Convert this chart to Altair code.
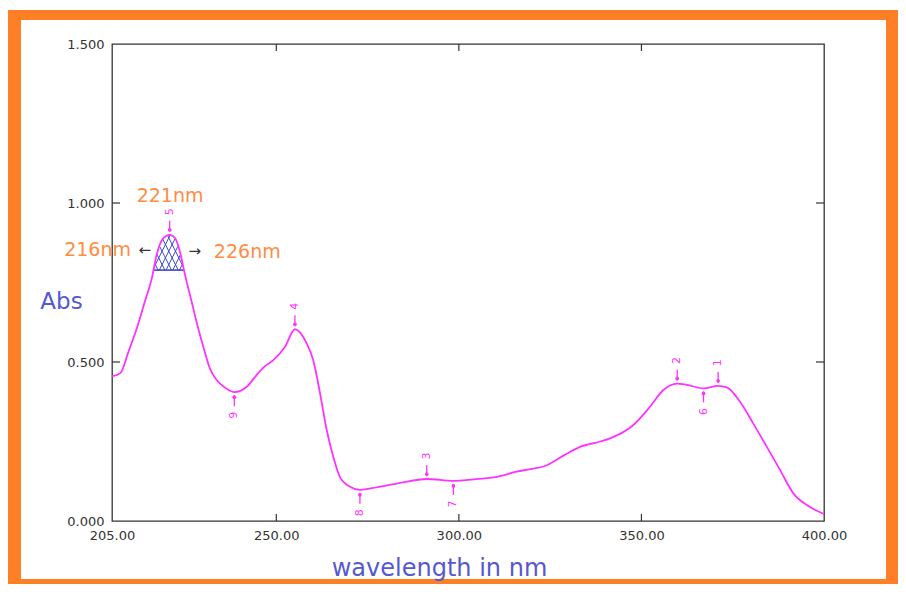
import altair as alt
import pandas as pd
import math

# ---------------- data ----------------
wavelength = [205.0, 207.3, 209.5, 211.8, 214.0, 215.9, 217.2, 219.0, 220.8, 222.3,
              223.6, 225.0, 226.8, 228.6, 230.4, 231.8, 233.4, 235.0, 236.6, 238.5,
              241.9, 244.6,
              246.9, 249.2, 252.4, 255.1, 258.3, 260.1, 262.0, 263.8, 265.6, 267.4,
              270.2, 272.9, 277.5, 283.9, 291.2, 298.5, 304.0, 310.4, 315.8, 319.5,
              323.6, 329.0, 333.2, 338.7, 341.4, 347.8, 352.4, 356.0, 359.8, 362.4,
              367.0, 371.0, 373.4, 377.0, 380.6, 384.3, 388.0, 391.6, 395.3, 400.0]
absorbance = [0.455, 0.465, 0.532, 0.606, 0.690, 0.763, 0.836, 0.889, 0.900, 0.889,
              0.847, 0.774, 0.690, 0.606, 0.532, 0.480, 0.447, 0.428, 0.414, 0.405,
              0.422, 0.459,
              0.487, 0.506, 0.548, 0.603, 0.559, 0.506, 0.400, 0.286, 0.202, 0.139,
              0.108, 0.098, 0.106, 0.120, 0.132, 0.126, 0.131, 0.139, 0.155, 0.163,
              0.173, 0.208, 0.233, 0.250, 0.260, 0.302, 0.360, 0.412, 0.432, 0.428,
              0.417, 0.425, 0.420, 0.375, 0.307, 0.234, 0.160, 0.087, 0.050, 0.022]

peak_ids = ["1", "2", "3", "4", "5"]
peak_nm = [371.0, 359.8, 291.2, 255.1, 220.8]
peak_abs = [0.425, 0.432, 0.132, 0.603, 0.900]

valley_ids = ["6", "7", "8", "9"]
valley_nm = [367.0, 298.5, 272.9, 238.5]
valley_abs = [0.417, 0.126, 0.098, 0.405]

x_ticks = [205, 250, 300, 350, 400]
y_ticks = [0.0, 0.5, 1.0, 1.5]
x_inner_ticks = [250, 300, 350]
y_inner_ticks = [0.5, 1.0]

# hatched band around the 221 nm peak (216 - 226 nm)
hatch_left_nm, hatch_right_nm, hatch_base = 216.26, 224.7, 0.789

ann_text = ["221nm", "216nm", "226nm"]
ann_nm = [220.9, 210.2, 232.9]
ann_abs = [1.022, 0.852, 0.846]
ann_align = ["center", "right", "left"]

arrow_text = ["←", "→"]
arrow_nm = [214.0, 227.7]
arrow_abs = [0.852, 0.849]

# ---------------- styling ----------------
W, H = 712, 477
MAGENTA = "#ff33ff"
ORANGE = "#ff7f27"
ORANGE_TXT = "#ff8c42"
BLUE = "#5558d0"
HATCH = "#3b48c9"
AXC = "#333333"
FONT = "DejaVu Sans"

xs = alt.Scale(domain=[205, 400], nice=False, zero=False)
ys = alt.Scale(domain=[0, 1.5], nice=False, zero=False)

curve_df = pd.DataFrame({"nm": wavelength, "A": absorbance})
peaks_df = pd.DataFrame({"id": peak_ids, "nm": peak_nm, "A": peak_abs})
valleys_df = pd.DataFrame({"id": valley_ids, "nm": valley_nm, "A": valley_abs})

# ---- hatch segments: cross lines clipped to region under curve above baseline ----
def to_px(nm, a):
    return ((nm - 205) * W / 195.0, a * H / 1.5)

def to_data(px, py):
    return (205 + px * 195.0 / W, py * 1.5 / H)

poly_pts = [(hatch_left_nm, hatch_base)]
for n, a in zip(wavelength, absorbance):
    if hatch_left_nm < n < hatch_right_nm:
        poly_pts.append((n, a))
poly_pts.append((hatch_right_nm, hatch_base))
poly = [to_px(n, a) for n, a in poly_pts]
cx = sum(p[0] for p in poly) / len(poly)
cy = sum(p[1] for p in poly) / len(poly)

def clip(p0, d):
    tmin, tmax = -1e9, 1e9
    m = len(poly)
    for i in range(m):
        a = poly[i]
        b = poly[(i + 1) % m]
        ex, ey = b[0] - a[0], b[1] - a[1]
        nx, ny = -ey, ex
        if nx * (cx - a[0]) + ny * (cy - a[1]) < 0:
            nx, ny = -nx, -ny
        num = nx * (p0[0] - a[0]) + ny * (p0[1] - a[1])
        den = nx * d[0] + ny * d[1]
        if abs(den) < 1e-12:
            if num < 0:
                return None
            continue
        t = -num / den
        if den > 0:
            tmin = max(tmin, t)
        else:
            tmax = min(tmax, t)
    if tmin >= tmax:
        return None
    return ((p0[0] + tmin * d[0], p0[1] + tmin * d[1]),
            (p0[0] + tmax * d[0], p0[1] + tmax * d[1]))

rows = []
seg = 0
for d in [(0.6, 1.2), (0.6, -1.2)]:
    ln = math.hypot(*d)
    d = (d[0] / ln, d[1] / ln)
    nrm = (-d[1], d[0])
    for k in range(-8, 9):
        p0 = (cx + k * 6.0 * nrm[0], cy + k * 6.0 * nrm[1])
        r = clip(p0, d)
        if r is None:
            continue
        for (px, py) in r:
            n, a = to_data(px, py)
            rows.append({"seg": seg, "nm": n, "A": a, "o": len(rows)})
        seg += 1
hatch_df = pd.DataFrame(rows)

# ---------------- layers ----------------
X = alt.X("nm:Q", scale=xs,
          axis=alt.Axis(values=x_ticks, format=".2f", ticks=False, domain=False, grid=False,
                        labelFont=FONT, labelFontSize=13, labelColor=AXC, labelPadding=8,
                        labelFlush=False,
                        title="wavelength in nm", titleFont=FONT, titleFontSize=24,
                        titleFontWeight="normal", titleColor=BLUE, titleX=327, titleY=47,
                        titleAlign="center", titleBaseline="middle", zindex=1))
Y = alt.Y("A:Q", scale=ys,
          axis=alt.Axis(values=y_ticks, format=".3f", ticks=False, domain=False, grid=False,
                        labelFont=FONT, labelFontSize=13, labelColor=AXC, labelPadding=8,
                        labelFlush=False,
                        title="Abs", titleFont=FONT, titleFontSize=23, titleFontWeight="normal",
                        titleColor=BLUE, titleAngle=0, titleX=-51, titleY=257,
                        titleAlign="center", titleBaseline="middle", zindex=1))

curve = alt.Chart(curve_df).mark_line(color=MAGENTA, strokeWidth=1.8, interpolate="monotone").encode(
    x=X, y=Y)

hatch = alt.Chart(hatch_df).mark_line(color=HATCH, strokeWidth=1).encode(
    x=alt.X("nm:Q", scale=xs), y=alt.Y("A:Q", scale=ys), detail="seg:N", order="o:Q")

base_df = pd.DataFrame({"nm": [hatch_left_nm], "nm2": [hatch_right_nm], "A": [hatch_base]})
hatch_base_rule = alt.Chart(base_df).mark_rule(color=HATCH, strokeWidth=1.6).encode(
    x=alt.X("nm:Q", scale=xs), x2="nm2:Q", y=alt.Y("A:Q", scale=ys))

def marker_layers(df, sign):
    rule = alt.Chart(df).mark_rule(color=MAGENTA, strokeWidth=1.3,
                                   yOffset=sign * 3, y2Offset=sign * 14).encode(
        x=alt.X("nm:Q", scale=xs), y=alt.Y("A:Q", scale=ys), y2="A:Q")
    dot = alt.Chart(df).mark_circle(color=MAGENTA, opacity=1, size=14, yOffset=sign * 5).encode(
        x=alt.X("nm:Q", scale=xs), y=alt.Y("A:Q", scale=ys))
    lab = alt.Chart(df).mark_text(color=MAGENTA, font=FONT, fontSize=11, angle=270,
                                  yOffset=sign * 23, baseline="middle", align="center").encode(
        x=alt.X("nm:Q", scale=xs), y=alt.Y("A:Q", scale=ys), text="id:N")
    return [rule, dot, lab]

ann_df = pd.DataFrame({"t": ann_text, "nm": ann_nm, "A": ann_abs, "al": ann_align})
ann_layers = []
for al in ["center", "right", "left"]:
    ann_layers.append(
        alt.Chart(ann_df[ann_df["al"] == al]).mark_text(
            color=ORANGE_TXT, font=FONT, fontSize=19, align=al, baseline="middle").encode(
            x=alt.X("nm:Q", scale=xs), y=alt.Y("A:Q", scale=ys), text="t:N"))

arrow_df = pd.DataFrame({"t": arrow_text, "nm": arrow_nm, "A": arrow_abs})
arrows = alt.Chart(arrow_df).mark_text(color=AXC, font=FONT, fontSize=15, baseline="middle").encode(
    x=alt.X("nm:Q", scale=xs), y=alt.Y("A:Q", scale=ys), text="t:N")

# inward ticks on all four sides
xt_df = pd.DataFrame({"nm": x_inner_ticks})
yt_df = pd.DataFrame({"A": y_inner_ticks})
tick_bottom = alt.Chart(xt_df).mark_rule(color=AXC, strokeWidth=1.2).encode(
    x=alt.X("nm:Q", scale=xs), y=alt.value(H), y2=alt.value(H - 7))
tick_top = alt.Chart(xt_df).mark_rule(color=AXC, strokeWidth=1.2).encode(
    x=alt.X("nm:Q", scale=xs), y=alt.value(0), y2=alt.value(7))
tick_left = alt.Chart(yt_df).mark_rule(color=AXC, strokeWidth=1.2).encode(
    y=alt.Y("A:Q", scale=ys), x=alt.value(0), x2=alt.value(8))
tick_right = alt.Chart(yt_df).mark_rule(color=AXC, strokeWidth=1.2).encode(
    y=alt.Y("A:Q", scale=ys), x=alt.value(W), x2=alt.value(W - 8))

# orange picture frame around the whole figure
def frame_rect(x1, x2, y1, y2):
    return alt.Chart(pd.DataFrame({"k": [0]})).mark_rect(color=ORANGE).encode(
        x=alt.value(x1), x2=alt.value(x2), y=alt.value(y1), y2=alt.value(y2))

frame = [
    frame_rect(-104, 786, -34, -24),
    frame_rect(-104, -91, -34, 540),
    frame_rect(774, 786, -34, 540),
    frame_rect(-104, 786, 535, 540),
]

chart = alt.layer(
    *frame, hatch, hatch_base_rule, curve,
    *marker_layers(peaks_df, -1), *marker_layers(valleys_df, 1),
    *ann_layers, arrows, tick_bottom, tick_top, tick_left, tick_right
).properties(
    width=W, height=H,
    padding={"left": 104, "top": 36, "right": 74, "bottom": 63},
    autosize=alt.AutoSizeParams(type="none"),
    background="white",
).configure_view(stroke=AXC, strokeWidth=1.3)

chart.save("out.html", embed_options={"renderer": "svg", "actions": False})
